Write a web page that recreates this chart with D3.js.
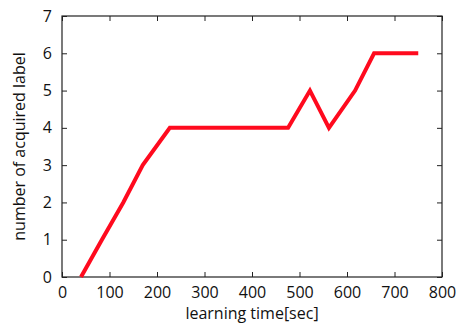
<!DOCTYPE html>
<html>
  <head>
    <meta charset="utf-8"/>
    <style>
    body {
      font-family: "Open Sans", sans-serif;
      margin: 0;
      background: #fff;
    }
    </style>
  </head>
  <body>
    <script src="https://d3js.org/d3.v7.min.js"></script>
    <script>
    var width = 461, height = 327;
    var margin = {left: 62, right: 19, top: 16, bottom: 50};

    // learning time [sec] and number of acquired labels
    var times = [40, 84, 129, 170, 227, 476, 522, 562, 617, 657, 750];
    var labels = [0, 1, 2, 3, 4, 4, 5, 4, 5, 6, 6];
    var xTicks = [0, 100, 200, 300, 400, 500, 600, 700, 800];
    var yTicks = [0, 1, 2, 3, 4, 5, 6, 7];

    var svg = d3.select("body").append("svg")
        .attr("width", width)
        .attr("height", height);

    var x = d3.scaleLinear().domain([0, 800])
        .range([margin.left, width - margin.right]);
    var y = d3.scaleLinear().domain([0, 7])
        .range([height - margin.bottom, margin.top]);

    var g = svg.append("g");

    // frame
    g.append("rect")
        .attr("x", x(0))
        .attr("y", y(7))
        .attr("width", x(800) - x(0))
        .attr("height", y(0) - y(7))
        .attr("fill", "none")
        .attr("stroke", "#222")
        .attr("stroke-width", 1.2);

    function styleAxis(sel) {
      sel.select(".domain").remove();
      sel.selectAll(".tick line").attr("stroke", "#222");
      sel.selectAll("text")
          .attr("font-family", "Open Sans, sans-serif")
          .attr("font-size", 16)
          .attr("fill", "#111");
    }

    svg.append("g")
        .attr("transform", "translate(0," + y(0) + ")")
        .call(d3.axisBottom(x).tickValues(xTicks).tickSize(-5).tickPadding(10))
        .call(styleAxis);

    svg.append("g")
        .attr("transform", "translate(0," + y(7) + ")")
        .call(d3.axisTop(x).tickValues(xTicks).tickSize(-5).tickFormat(""))
        .call(styleAxis);

    svg.append("g")
        .attr("transform", "translate(" + x(0) + ",0)")
        .call(d3.axisLeft(y).tickValues(yTicks).tickSize(-5).tickPadding(10)
            .tickFormat(d3.format("d")))
        .call(styleAxis);

    svg.append("g")
        .attr("transform", "translate(" + x(800) + ",0)")
        .call(d3.axisRight(y).tickValues(yTicks).tickSize(-5).tickFormat(""))
        .call(styleAxis);

    var line = d3.line()
        .x(function(d, i) { return x(times[i]); })
        .y(function(d) { return y(d); });

    g.append("path")
        .datum(labels)
        .attr("d", line)
        .attr("fill", "none")
        .attr("stroke", "#ff0a1e")
        .attr("stroke-width", 4);

    svg.append("text")
        .attr("x", (x(0) + x(800)) / 2)
        .attr("y", 319)
        .attr("text-anchor", "middle")
        .attr("font-size", 16)
        .attr("fill", "#111")
        .text("learning time[sec]");

    svg.append("text")
        .attr("transform", "translate(25," + (y(0) + y(7)) / 2 + ") rotate(-90)")
        .attr("text-anchor", "middle")
        .attr("font-size", 16)
        .attr("fill", "#111")
        .text("number of acquired label");
    </script>
  </body>
</html>
